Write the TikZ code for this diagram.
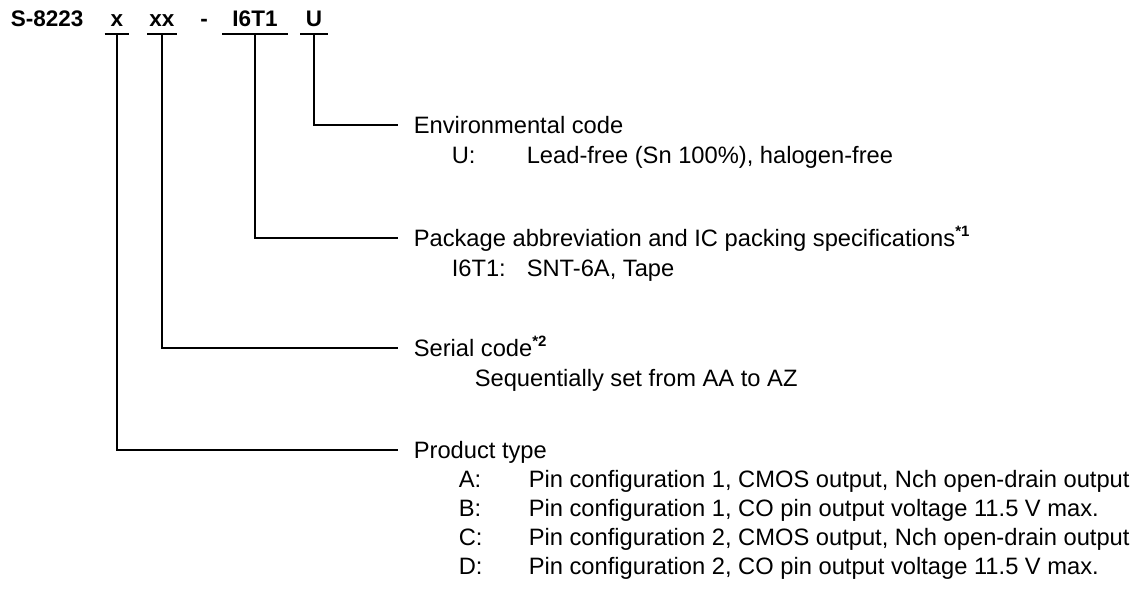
\documentclass[tikz,border=0pt]{standalone}
\usepackage{fontspec}
\setmainfont{Liberation Sans}
\usetikzlibrary{positioning}

\newcommand{\note}[1]{\raisebox{10pt}{\fontsize{15}{15}\selectfont\bfseries #1}}

\begin{document}
\begin{tikzpicture}[x=1pt, y=-1pt, line width=1.6pt,
    field/.style = {font=\bfseries\fontsize{22.5}{27}\selectfont, anchor=base, inner sep=0, text depth=7pt},
    title/.style = {font=\fontsize{23.7}{29}\selectfont, anchor=west, inner xsep=15pt, inner ysep=0, text height=17pt, text depth=0pt},
    entry/.style = {font=\fontsize{23.7}{29}\selectfont, inner sep=0}]

    \useasboundingbox (0,0) rectangle (1142,592);

    % part number
    \node[field, anchor=base west] (name) at (10,26) {S-8223};
    \node[field, minimum width=23pt] (fx) at (117,26) {x};
    \node[field, minimum width=28pt] (fxx) at (162,26) {xx};
    \node[field] (dash) at (204,26) {-};
    \node[field, minimum width=64pt] (fpkg) at (255,26) {I6T1};
    \node[field, minimum width=26pt] (fu) at (314,26) {U};

    \draw (fx.south west) -- (fx.south east);
    \draw (fxx.south west) -- (fxx.south east);
    \draw (fpkg.south west) -- (fpkg.south east);
    \draw (fu.south west) -- (fu.south east);

    % environmental code
    \node[title] (envcode) at (398,125) {Environmental code};
    \node[entry, below right=30pt and 53pt of envcode.base west, anchor=base west] (envkey) {U:};
    \node[entry, below right=30pt and 128pt of envcode.base west, anchor=base west] (envval) {Lead-free (Sn 100\%), halogen-free};

    % package
    \node[title] (pkgcode) at (398,238) {Package abbreviation and IC packing specifications\note{*1}};
    \node[entry, below right=30pt and 53pt of pkgcode.base west, anchor=base west] (pkgkey) {I6T1:};
    \node[entry, below right=30pt and 128pt of pkgcode.base west, anchor=base west] (pkgval) {SNT-6A, Tape};

    % serial code
    \node[title] (sercode) at (398,348) {Serial code\note{*2}};
    \node[entry, below right=30pt and 76pt of sercode.base west, anchor=base west] (serval) {Sequentially set from AA to AZ};

    % product type
    \node[title] (prodtype) at (398,450) {Product type};
    \node[entry, below right=29pt and 60pt of prodtype.base west, anchor=base west] (pa) {A:};
    \node[entry, below=29pt of pa.base west, anchor=base west] (pb) {B:};
    \node[entry, below=29pt of pb.base west, anchor=base west] (pc) {C:};
    \node[entry, below=29pt of pc.base west, anchor=base west] (pd) {D:};
    \node[entry, right=70pt of pa.base west, anchor=base west] (va) {Pin configuration 1, CMOS output, Nch open-drain output};
    \node[entry, right=70pt of pb.base west, anchor=base west] (vb) {Pin configuration 1, CO pin output voltage 11.5 V max.};
    \node[entry, right=70pt of pc.base west, anchor=base west] (vc) {Pin configuration 2, CMOS output, Nch open-drain output};
    \node[entry, right=70pt of pd.base west, anchor=base west] (vd) {Pin configuration 2, CO pin output voltage 11.5 V max.};

    \draw (fu.south) |- (envcode.west);
    \draw (fpkg.south) |- (pkgcode.west);
    \draw (fxx.south) |- (sercode.west);
    \draw (fx.south) |- (prodtype.west);
\end{tikzpicture}
\end{document}
